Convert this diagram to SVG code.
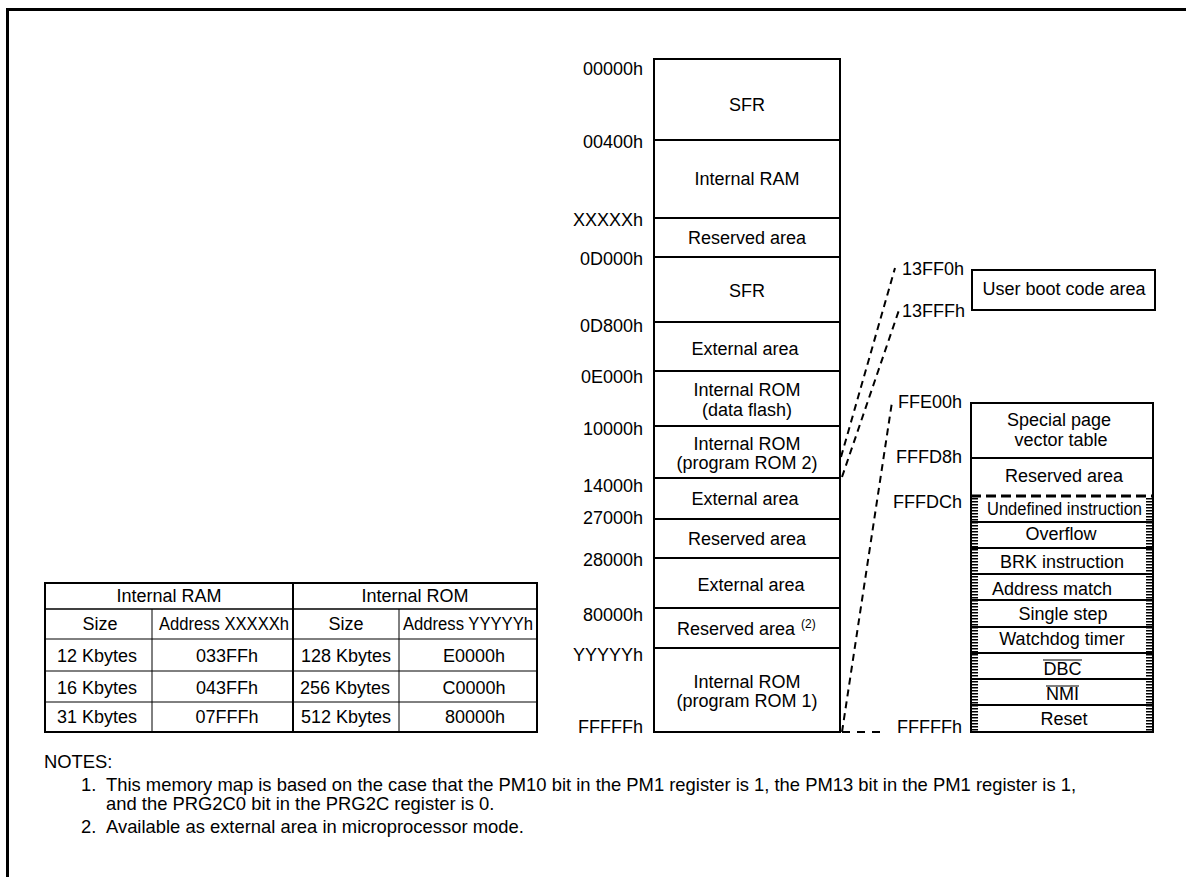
<svg xmlns="http://www.w3.org/2000/svg" width="1186" height="877" viewBox="0 0 1186 877">
<style>
text{font-family:"Liberation Sans",Arial,sans-serif;font-size:18px;fill:#000}
.c{text-anchor:middle}
.r{text-anchor:end}
.box{fill:#fff;stroke:#000;stroke-width:2}
.ln{stroke:#000;stroke-width:2;fill:none}
.thin{stroke:#000;stroke-width:1;fill:none}
.dash{stroke:#000;stroke-width:2;fill:none;stroke-dasharray:7 5}
.tick{stroke:#000;stroke-width:6;fill:none;stroke-dasharray:1.5 1.5}
.sup{font-size:12px}
.note{font-size:18.4px}
</style>
<rect x="7.5" y="9.5" width="1200" height="900" fill="#fff" stroke="#000" stroke-width="3"/>

<g id="memory-map">
  <g id="mm-sfr1"><rect class="box" x="654" y="59" width="186" height="81"/><text class="c" x="747" y="111">SFR</text></g>
  <g id="mm-iram"><rect class="box" x="654" y="140" width="186" height="78"/><text class="c" x="747" y="185">Internal RAM</text></g>
  <g id="mm-res1"><rect class="box" x="654" y="218" width="186" height="39"/><text class="c" x="747" y="244">Reserved area</text></g>
  <g id="mm-sfr2"><rect class="box" x="654" y="257" width="186" height="65"/><text class="c" x="747" y="297">SFR</text></g>
  <g id="mm-ext1"><rect class="box" x="654" y="322" width="186" height="49"/><text class="c" x="745" y="355">External area</text></g>
  <g id="mm-dflash"><rect class="box" x="654" y="371" width="186" height="55"/><text class="c" x="747" y="396">Internal ROM</text><text class="c" x="747" y="416">(data flash)</text></g>
  <g id="mm-prom2"><rect class="box" x="654" y="426" width="186" height="52"/><text class="c" x="747" y="450">Internal ROM</text><text class="c" x="747" y="469">(program ROM 2)</text></g>
  <g id="mm-ext2"><rect class="box" x="654" y="478" width="186" height="41"/><text class="c" x="745" y="505">External area</text></g>
  <g id="mm-res2"><rect class="box" x="654" y="519" width="186" height="39"/><text class="c" x="747" y="545">Reserved area</text></g>
  <g id="mm-ext3"><rect class="box" x="654" y="558" width="186" height="50"/><text class="c" x="751" y="591">External area</text></g>
  <g id="mm-res3"><rect class="box" x="654" y="608" width="186" height="40"/><text x="677" y="635">Reserved area</text><text class="sup" x="801" y="628">(2)</text></g>
  <g id="mm-prom1"><rect class="box" x="654" y="648" width="186" height="84"/><text class="c" x="747" y="688">Internal ROM</text><text class="c" x="747" y="707">(program ROM 1)</text></g>
</g>

<g id="addresses-left">
  <text class="r" x="643" y="75">00000h</text>
  <text class="r" x="643" y="148">00400h</text>
  <text class="r" x="643" y="226">XXXXXh</text>
  <text class="r" x="643" y="265">0D000h</text>
  <text class="r" x="643" y="332">0D800h</text>
  <text class="r" x="643" y="383">0E000h</text>
  <text class="r" x="643" y="435">10000h</text>
  <text class="r" x="643" y="492">14000h</text>
  <text class="r" x="643" y="524">27000h</text>
  <text class="r" x="643" y="566">28000h</text>
  <text class="r" x="643" y="621">80000h</text>
  <text class="r" x="643" y="661">YYYYYh</text>
  <text class="r" x="643" y="733">FFFFFh</text>
</g>

<g id="user-boot">
  <rect class="box" x="972" y="270" width="183" height="40"/>
  <text class="c" x="1064" y="295">User boot code area</text>
  <text x="902" y="275">13FF0h</text>
  <text x="902" y="317">13FFFh</text>
</g>

<g id="vector-table">
  <rect class="box" x="971" y="403" width="182" height="329"/>
  <line class="ln" x1="971" y1="458" x2="1153" y2="458"/>
  <line x1="971" y1="496" x2="1153" y2="496" stroke="#000" stroke-width="3" stroke-dasharray="10 5"/>
  <line class="ln" x1="971" y1="522" x2="1153" y2="522"/>
  <line class="ln" x1="971" y1="548" x2="1153" y2="548"/>
  <line class="ln" x1="971" y1="574" x2="1153" y2="574"/>
  <line class="ln" x1="971" y1="600" x2="1153" y2="600"/>
  <line class="ln" x1="971" y1="627" x2="1153" y2="627"/>
  <line class="ln" x1="971" y1="653" x2="1153" y2="653"/>
  <line class="ln" x1="971" y1="679" x2="1153" y2="679"/>
  <line class="ln" x1="971" y1="705" x2="1153" y2="705"/>
  <line class="tick" x1="975" y1="498" x2="975" y2="731"/>
  <line class="tick" x1="1149" y1="498" x2="1149" y2="731"/>
  <text class="c" x="1059" y="426">Special page</text>
  <text class="c" x="1061" y="446">vector table</text>
  <text class="c" x="1064" y="482">Reserved area</text>
  <text class="c" x="1064.5" y="515" textLength="155" lengthAdjust="spacingAndGlyphs">Undefined instruction</text>
  <text class="c" x="1061" y="540">Overflow</text>
  <text class="c" x="1062" y="568">BRK instruction</text>
  <text class="c" x="1052" y="595">Address match</text>
  <text class="c" x="1063" y="620">Single step</text>
  <text class="c" x="1062" y="645">Watchdog timer</text>
  <text class="c" x="1062.5" y="675">DBC</text>
  <line x1="1043" y1="660" x2="1082" y2="660" stroke="#000" stroke-width="1.2"/>
  <text class="c" x="1062.5" y="700">NMI</text>
  <line x1="1046" y1="686" x2="1079" y2="686" stroke="#000" stroke-width="1.2"/>
  <text class="c" x="1064" y="725">Reset</text>
  <text class="r" x="962" y="408">FFE00h</text>
  <text class="r" x="962" y="463">FFFD8h</text>
  <text class="r" x="962" y="508">FFFDCh</text>
  <text class="r" x="962" y="733">FFFFFh</text>
</g>

<g id="connectors">
  <line class="dash" x1="841" y1="457" x2="895" y2="268"/>
  <line class="dash" x1="842" y1="477" x2="899" y2="310"/>
  <line class="dash" x1="842" y1="732" x2="892" y2="402"/>
  <line x1="842" y1="732" x2="880" y2="732" stroke="#000" stroke-width="2" stroke-dasharray="8 7"/>
</g>

<g id="size-table">
  <rect x="45" y="583" width="492" height="149" fill="#fff" stroke="#000" stroke-width="2"/>
  <line x1="45" y1="609" x2="537" y2="609" stroke="#000" stroke-width="1.5"/>
  <line class="thin" x1="45" y1="639" x2="537" y2="639"/>
  <line class="thin" x1="45" y1="671" x2="537" y2="671"/>
  <line class="thin" x1="45" y1="702" x2="537" y2="702"/>
  <line class="ln" x1="293" y1="583" x2="293" y2="732"/>
  <line class="thin" x1="152" y1="609" x2="152" y2="732"/>
  <line class="thin" x1="399" y1="609" x2="399" y2="732"/>
  <text class="c" x="169" y="602">Internal RAM</text>
  <text class="c" x="415" y="602">Internal ROM</text>
  <text class="c" x="100" y="630">Size</text>
  <text class="c" x="224" y="630" textLength="130" lengthAdjust="spacingAndGlyphs">Address XXXXXh</text>
  <text class="c" x="346" y="630">Size</text>
  <text class="c" x="468" y="630" textLength="130" lengthAdjust="spacingAndGlyphs">Address YYYYYh</text>
  <text class="c" x="97" y="662">12 Kbytes</text>
  <text class="c" x="227" y="662">033FFh</text>
  <text class="c" x="346" y="662">128 Kbytes</text>
  <text class="c" x="474" y="662">E0000h</text>
  <text class="c" x="97" y="694">16 Kbytes</text>
  <text class="c" x="227" y="694">043FFh</text>
  <text class="c" x="345" y="694">256 Kbytes</text>
  <text class="c" x="474" y="694">C0000h</text>
  <text class="c" x="97" y="723">31 Kbytes</text>
  <text class="c" x="227" y="723">07FFFh</text>
  <text class="c" x="346" y="723">512 Kbytes</text>
  <text class="c" x="475" y="723">80000h</text>
</g>

<g id="notes">
  <text class="note" x="44" y="768">NOTES:</text>
  <text class="note" x="81" y="791">1.</text>
  <text class="note" x="106" y="791">This memory map is based on the case that the PM10 bit in the PM1 register is 1, the PM13 bit in the PM1 register is 1,</text>
  <text class="note" x="106" y="810">and the PRG2C0 bit in the PRG2C register is 0.</text>
  <text class="note" x="81" y="833">2.</text>
  <text class="note" x="106" y="833">Available as external area in microprocessor mode.</text>
</g>
</svg>
